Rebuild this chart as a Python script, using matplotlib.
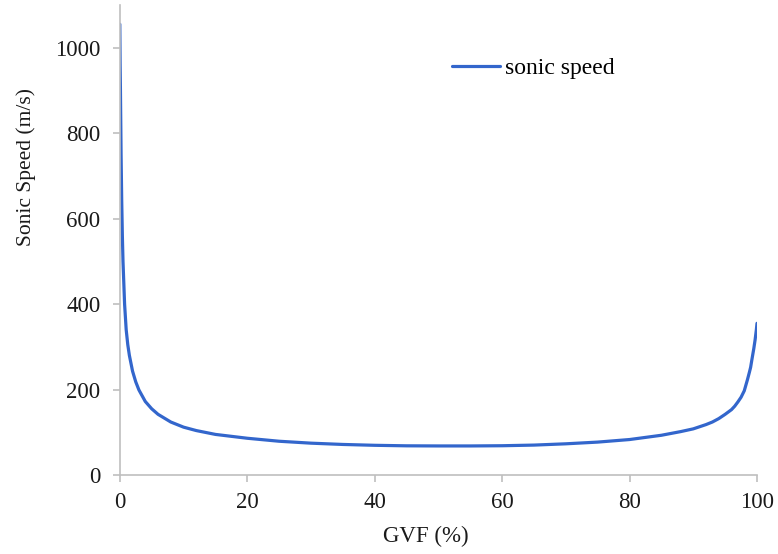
import matplotlib
matplotlib.use("Agg")
import matplotlib.pyplot as plt

# GVF (%) and sonic speed (m/s)
gvf = [0, 0.05, 0.1, 0.2, 0.3, 0.4, 0.5, 0.75, 1.0, 1.25, 1.5, 2, 2.5, 3, 4, 5,
       6, 8, 10, 12, 15, 20, 25, 30, 35, 40, 45, 50, 55, 60, 65, 70, 75, 80,
       83, 85, 88, 90, 92, 93, 94, 95, 96, 96.5, 97, 97.5, 98, 98.5, 98.8,
       99, 99.2, 99.5, 99.7, 99.9, 100]
speed = [1055, 960, 900, 750, 640, 560, 500, 400, 340, 305, 280, 243, 218, 199,
         172, 155, 142, 124, 112, 104, 95, 86, 79, 74.5, 71.5, 69.5, 68.3, 68,
         68, 68.5, 70, 73, 77, 83, 89, 93, 101.5, 108, 118, 124, 132, 142, 153,
         161, 171, 182, 197, 223, 240, 252, 270, 296, 316, 340, 355]

xticks = [0, 20, 40, 60, 80, 100]
yticks = [0, 200, 400, 600, 800, 1000]

plt.rcParams['font.family'] = ['Liberation Serif', 'DejaVu Serif']

fig = plt.figure(figsize=(7.78, 5.54), dpi=100)
ax = fig.add_axes([0.154, 0.1426, 0.819, 0.8484])

ax.plot(gvf, speed, color='#3366cc', linewidth=2.3, label='sonic speed',
        solid_capstyle='round', solid_joinstyle='round')

ax.set_xlim(0, 100)
ax.set_ylim(0, 1100)
ax.set_xticks(xticks)
ax.set_yticks(yticks)

for side in ['top', 'right']:
    ax.spines[side].set_visible(False)
for side in ['left', 'bottom']:
    ax.spines[side].set_color('#bfbfbf')
    ax.spines[side].set_linewidth(1.2)
ax.tick_params(axis='both', direction='out', length=5, width=1.2,
               color='#bfbfbf', labelsize=16.5, labelcolor='#1a1a1a')
ax.tick_params(axis='y', pad=9)
ax.tick_params(axis='x', pad=7)

ax.set_xlabel("GVF (%)", fontsize=16.5, color='#1a1a1a', va='center')
ax.xaxis.set_label_coords(0.48, -0.13)
ax.set_ylabel("Sonic Speed (m/s)", fontsize=15.5, color='#1a1a1a', va='center')
ax.yaxis.set_label_coords(-0.1476, 0.655)

ax.legend(loc='center left', bbox_to_anchor=(452 / 778, 1 - 68 / 554),
          bbox_transform=fig.transFigure, frameon=False, fontsize=17,
          handlelength=2.05, handletextpad=0.2, borderpad=0, borderaxespad=0)

plt.savefig("out.png", dpi=100)
plt.close()
